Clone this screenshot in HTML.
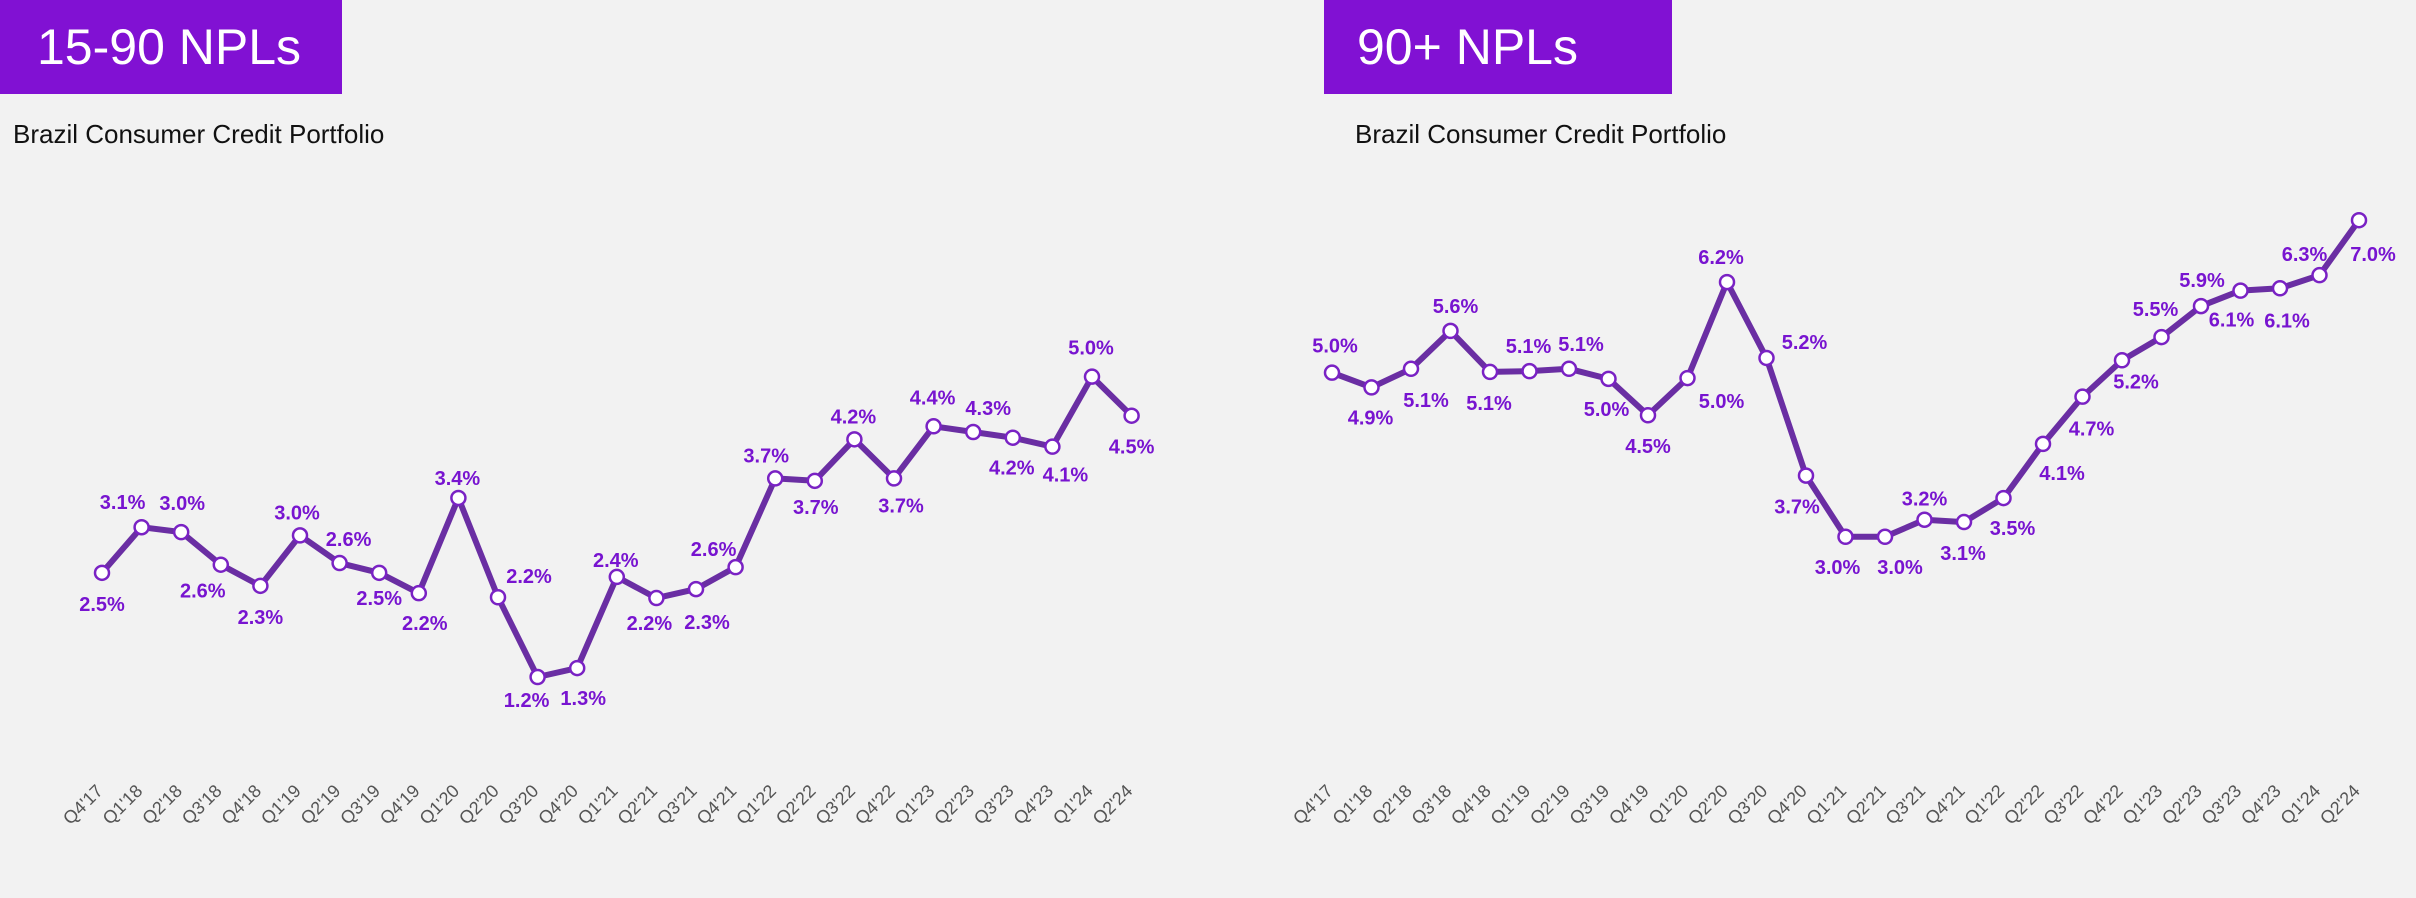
<!DOCTYPE html>
<html><head><meta charset="utf-8">
<style>
html,body{margin:0;padding:0;background:#f2f2f2;width:2416px;height:898px;overflow:hidden;font-family:"Liberation Sans",sans-serif;}
.box{position:absolute;top:0;height:94px;background:#8111d3;color:#fff;font-size:50px;line-height:94px;box-sizing:border-box;}
.sub{position:absolute;top:119px;font-size:26px;color:#111;}
svg{position:absolute;left:0;top:0;}
</style></head>
<body>
<div class="box" style="left:0;width:342px;padding-left:37px;">15-90 NPLs</div>
<div class="sub" style="left:13px;">Brazil Consumer Credit Portfolio</div>
<div class="box" style="left:1324px;width:348px;padding-left:33px;">90+ NPLs</div>
<div class="sub" style="left:1355px;">Brazil Consumer Credit Portfolio</div>
<svg id="chart" width="2416" height="898"></svg>
<script>
const categories = ["Q4'17","Q1'18","Q2'18","Q3'18","Q4'18","Q1'19","Q2'19","Q3'19","Q4'19","Q1'20","Q2'20","Q3'20","Q4'20","Q1'21","Q2'21","Q3'21","Q4'21","Q1'22","Q2'22","Q3'22","Q4'22","Q1'23","Q2'23","Q3'23","Q4'23","Q1'24","Q2'24"];
const npl1590Values = [2.48,3.04,2.98,2.58,2.32,2.94,2.60,2.48,2.23,3.40,2.18,1.20,1.31,2.43,2.17,2.28,2.55,3.64,3.61,4.12,3.64,4.28,4.21,4.14,4.03,4.89,4.41];
const npl1590Labels = ["2.5%","3.1%","3.0%","2.6%","2.3%","3.0%","2.6%","2.5%","2.2%","3.4%","2.2%","1.2%","1.3%","2.4%","2.2%","2.3%","2.6%","3.7%","3.7%","4.2%","3.7%","4.4%","4.3%","4.2%","4.1%","5.0%","4.5%"];
const npl90Values = [5.03,4.84,5.08,5.57,5.04,5.05,5.08,4.95,4.48,4.96,6.20,5.22,3.70,2.91,2.91,3.13,3.10,3.41,4.11,4.72,5.19,5.49,5.89,6.09,6.12,6.29,7.00];
const npl90Labels = ["5.0%","4.9%","5.1%","5.6%","5.1%","5.1%","5.1%","5.0%","4.5%","5.0%","6.2%","5.2%","3.7%","3.0%","3.0%","3.2%","3.1%","3.5%","4.1%","4.7%","5.2%","5.5%","5.9%","6.1%","6.1%","6.3%","7.0%"];
// label offsets (layout, not data)
const off1 = [[0,31],[-19,-25],[1,-29],[-18,26],[0,31],[-3,-23],[9,-24],[0,25],[6,30],[-1,-20],[31,-21],[-11,23],[6,30],[-1,-17],[-7,25],[11,33],[-22,-18],[-9,-23],[1,26],[-1,-23],[7,27],[-1,-29],[15,-24],[-1,30],[13,28],[-1,-29],[0,31]];
const off2 = [[3,-27],[-1,30],[15,31],[5,-25],[-1,31],[-1,-25],[12,-25],[-2,30],[0,31],[34,23],[-6,-25],[38,-16],[-9,31],[-8,30],[15,30],[0,-21],[-1,31],[9,30],[19,29],[9,32],[14,21],[-6,-28],[1,-26],[-9,29],[7,32],[-15,-21],[14,34]];

const svg = document.getElementById('chart');
const NS = 'http://www.w3.org/2000/svg';
function mk(tag, attrs){const e=document.createElementNS(NS,tag);for(const k in attrs)e.setAttribute(k,attrs[k]);svg.appendChild(e);return e;}

function drawChart(prefix, x0, step, yZero, pxPer, values, labels, offs){
  const xs = i => x0 + i*step;
  const ys = v => yZero - v*pxPer;
  const pts = values.map((v,i)=>xs(i).toFixed(1)+','+ys(v).toFixed(1)).join(' ');
  const line = mk('polyline',{points:pts,fill:'none',stroke:'#6a2ea3','stroke-width':6,'stroke-linejoin':'round'});
  
  
  values.forEach((v,i)=>{
    const c = mk('circle',{cx:xs(i),cy:ys(v),r:7,fill:'#fff',stroke:'#7a22c4','stroke-width':2.5});
    
    
    const t = mk('text',{x:xs(i)+offs[i][0],y:ys(v)+offs[i][1]+7,'text-anchor':'middle','font-size':20,'font-weight':'bold',fill:'#7814d0','font-family':'Liberation Sans, sans-serif'});
    t.textContent = labels[i];
    
    
  });
  categories.forEach((c,i)=>{
    const x = xs(i)+2, y = 792;
    const t = mk('text',{x:x,y:y,'text-anchor':'end','font-size':18,fill:'#555','font-family':'Liberation Sans, sans-serif',transform:'rotate(-45 '+x+' '+y+')'});
    t.textContent = c;
    
    
  });
}
drawChart('npl-15-90', 102, 39.6, 774.7, 81.4, npl1590Values, npl1590Labels, off1);
drawChart('npl-90-plus', 1332, 39.5, 762, 77.4, npl90Values, npl90Labels, off2);
</script>
</body></html>
